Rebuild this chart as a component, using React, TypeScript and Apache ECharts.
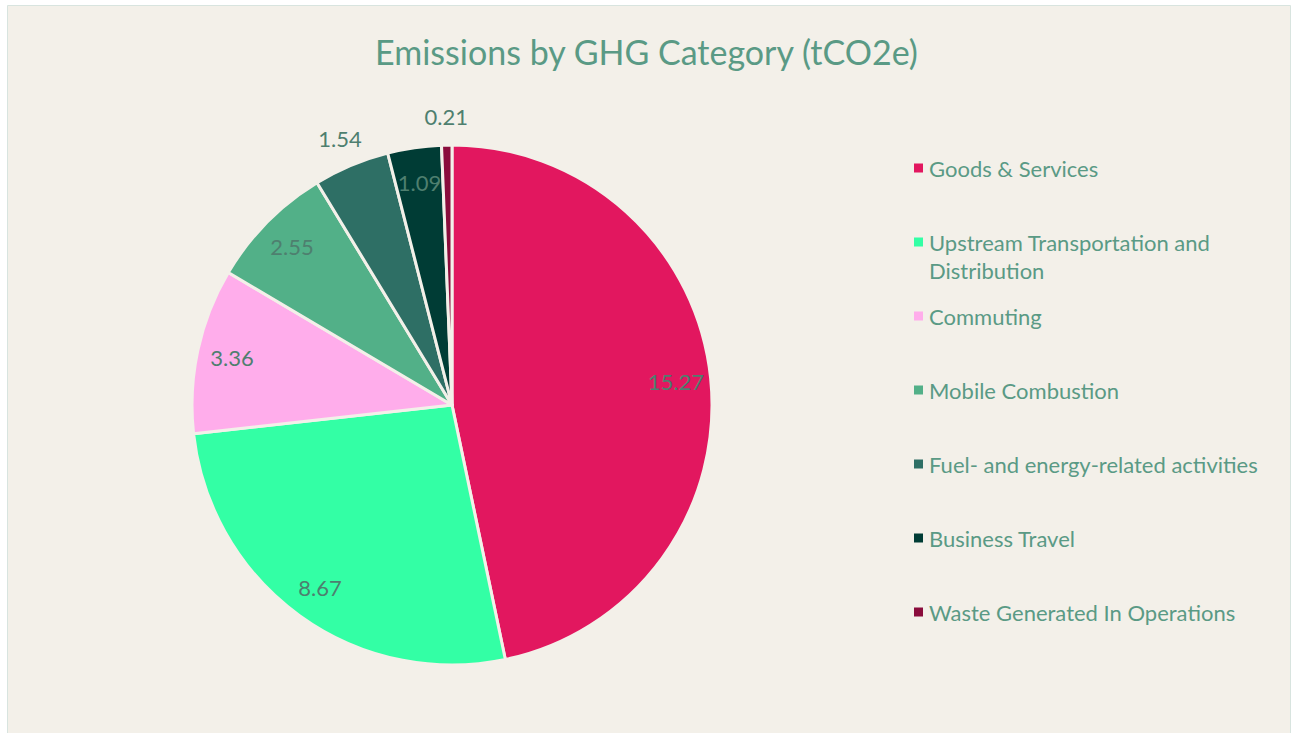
import React, { useEffect, useRef } from "react";
import * as echarts from "echarts";

const categories = [
  "Goods & Services",
  "Upstream Transportation and Distribution",
  "Commuting",
  "Mobile Combustion",
  "Fuel- and energy-related activities",
  "Business Travel",
  "Waste Generated In Operations",
];
const values = [15.27, 8.67, 3.36, 2.55, 1.54, 1.09, 0.21];
const colors = ["#E2175F", "#33FFA5", "#FFADEB", "#52B088", "#2E6F65", "#003C35", "#8A0C3C"];
const outsideLabels = ["Fuel- and energy-related activities", "Waste Generated In Operations"];
const legendLabels = [
  "Goods & Services",
  " \nUpstream Transportation and\nDistribution",
  "Commuting",
  "Mobile Combustion",
  "Fuel- and energy-related activities",
  "Business Travel",
  "Waste Generated In Operations",
];

const BG = "#F3F0E9";
const FONT = "Lato";
const LABEL_COLOR = "#4E7F6F";
const LEGEND_COLOR = "#5A9A85";

export default function App() {
  const ref = useRef<HTMLDivElement>(null);
  useEffect(() => {
    if (!ref.current) return;
    const chart = echarts.init(ref.current, undefined, { renderer: "svg" });
    const center = [452, 405];
    const baseData = categories.map((name, i) => ({
      name,
      value: values[i],
      itemStyle: { color: colors[i] },
    }));
    const labelData = (outside: boolean) =>
      categories.map((name, i) => ({
        name,
        value: values[i],
        label: { show: outsideLabels.includes(name) === outside },
      }));
    const legends = categories.map((name, i) => {
      const lines = legendLabels[i].split("\n").length;
      const centerY = 168 + i * 74;
      return {
        data: [name],
        orient: "vertical",
        left: 912,
        top: centerY - (lines * 28) / 2,
        padding: 0,
        icon: "rect",
        itemWidth: 11,
        itemHeight: 11,
        itemGap: 0,
        selectedMode: false,
        formatter: () => legendLabels[i],
        textStyle: {
          fontFamily: FONT,
          fontSize: 22,
          color: LEGEND_COLOR,
          lineHeight: 28,
        },
      };
    });
    const transparent = { color: "rgba(0,0,0,0)", borderWidth: 0 };
    const labelStyle = {
      position: "inside",
      formatter: "{c}",
      fontFamily: FONT,
      fontSize: 22,
      color: LABEL_COLOR,
    };
    chart.setOption({
      animation: false,
      backgroundColor: "#FFFFFF",
      graphic: [
        {
          type: "rect",
          z: -10,
          silent: true,
          shape: { x: 7.5, y: 5.5, width: 1283, height: 740 },
          style: { fill: BG, stroke: "#D8E4DF", lineWidth: 1 },
        },
      ],
      title: {
        text: "Emissions by GHG Category (tCO2e)",
        left: "center",
        top: 29,
        textStyle: { fontFamily: FONT, fontSize: 34, fontWeight: "normal", color: LEGEND_COLOR },
      },
      legend: legends,
      series: [
        {
          type: "pie",
          center,
          radius: [0, 260],
          startAngle: 90,
          clockwise: true,
          silent: true,
          itemStyle: { borderColor: BG, borderWidth: 3 },
          label: { show: false },
          labelLine: { show: false },
          emphasis: { disabled: true },
          data: baseData,
        },
        {
          type: "pie",
          center,
          radius: [184, 260],
          startAngle: 90,
          clockwise: true,
          silent: true,
          itemStyle: transparent,
          label: labelStyle,
          labelLine: { show: false },
          emphasis: { disabled: true },
          data: labelData(false),
        },
        {
          type: "pie",
          center,
          radius: [268, 304],
          startAngle: 90,
          clockwise: true,
          silent: true,
          itemStyle: transparent,
          label: labelStyle,
          labelLine: { show: false },
          emphasis: { disabled: true },
          data: labelData(true),
        },
      ],
    });
    return () => chart.dispose();
  }, []);
  return (
    <div style={{ position: "fixed", left: 0, top: 0, width: 1293, height: 733 }}>
      <div ref={ref} style={{ width: 1293, height: 733 }} />
    </div>
  );
}
